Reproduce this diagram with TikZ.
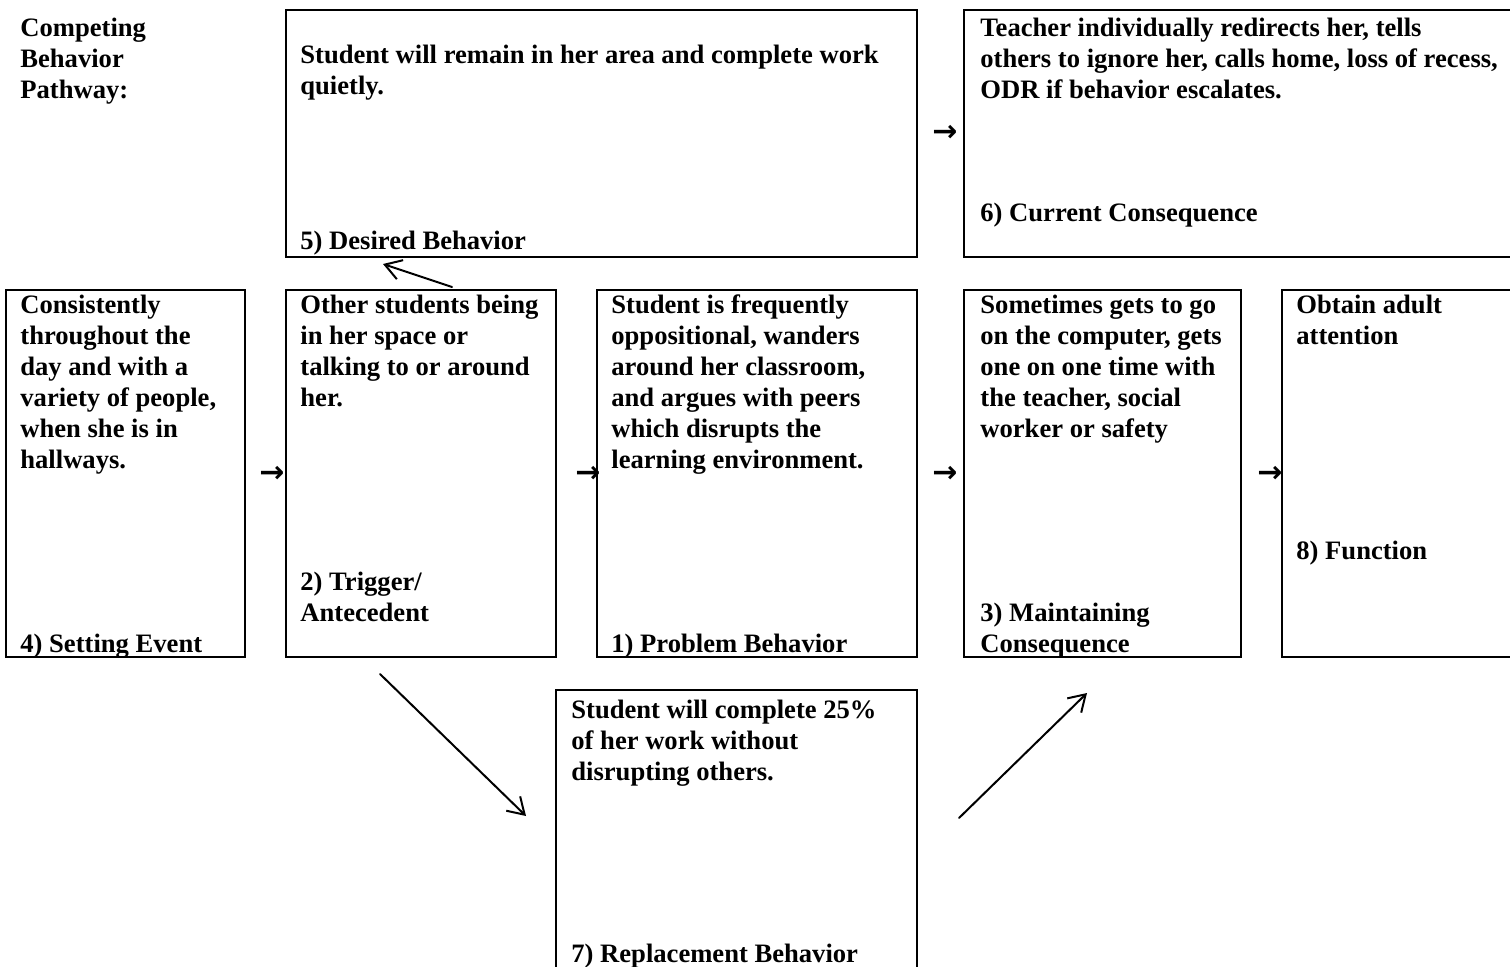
\documentclass[tikz,border=0pt]{standalone}
\usepackage{fontspec}
\setmainfont{Liberation Serif}
\newfontfamily\arrowfont{DejaVu Sans}
\usetikzlibrary{arrows.meta,fit}

\begin{document}
\begin{tikzpicture}[line cap=round,line join=round,>={Straight Barb[length=8pt,width=10pt]},x=0.5pt,y=-0.5pt,
  box/.style={draw,line width=1.pt,line join=miter,inner sep=0pt},
  txt/.style={anchor=base west,align=left,inner sep=0pt,font=\fontsize{13.3}{15.5}\selectfont\bfseries},
  pil/.style={inner sep=0pt,font=\fontsize{15}{15}\selectfont\arrowfont\bfseries}]
\useasboundingbox (0,0) rectangle (1510,966);
\clip (0,0) rectangle (1510,966);
\node [box,fit={(286,10) (917,257)}] (desired) {};
\node [box,fit={(964,10) (1530,257)}] (current) {};
\node [box,fit={(6,290) (245,657)}] (setting) {};
\node [box,fit={(286,290) (556,657)}] (trigger) {};
\node [box,fit={(597,290) (917,657)}] (problem) {};
\node [box,fit={(964,290) (1241,657)}] (maint) {};
\node [box,fit={(1282,290) (1530,657)}] (func) {};
\node [box,fit={(556,690) (917,990)}] (replace) {};
\node [txt] (compet) at (20,98) {Competing\\Behavior\\Pathway:};
\node [txt] (desiredtxt) at (300,94) {Student will remain in her area and complete work\\quietly.};
\node [txt] (desiredlbl) at (300,249) {5) Desired Behavior};
\node [txt] (currenttxt) at (980,98) {Teacher individually redirects her, tells\\others to ignore her, calls home, loss of recess,\\ODR if behavior escalates.};
\node [txt] (currentlbl) at (980,221) {6) Current Consequence};
\node [txt] (settingtxt) at (20,468) {Consistently\\throughout the\\day and with a\\variety of people,\\when she is in\\hallways.};
\node [txt] (settinglbl) at (20,652) {4) Setting Event};
\node [txt] (triggertxt) at (300,406) {Other students being\\in her space or\\talking to or around\\her.};
\node [txt] (triggerlbl) at (300,621) {2) Trigger/\\Antecedent};
\node [txt] (problemtxt) at (611,468) {Student is frequently\\oppositional, wanders\\around her classroom,\\and argues with peers\\which disrupts the\\learning environment.};
\node [txt] (problemlbl) at (611,652) {1) Problem Behavior};
\node [txt] (mainttxt) at (980,437) {Sometimes gets to go\\on the computer, gets\\one on one time with\\the teacher, social\\worker or safety};
\node [txt] (maintlbl) at (980,652) {3) Maintaining\\Consequence};
\node [txt] (functxt) at (1296,344) {Obtain adult\\attention};
\node [txt] (funclbl) at (1296,559) {8) Function};
\node [txt] (replacetxt) at (571,780) {Student will complete 25\%\\of her work without\\disrupting others.};
\node [txt] (replacelbl) at (571,962) {7) Replacement Behavior};
\node [pil] (p1) at (945,133) {→};
\node [pil] (p2) at (272,474) {→};
\node [pil] (p3) at (588,474) {→};
\node [pil] (p4) at (945,474) {→};
\node [pil] (p5) at (1270,474) {→};
\coordinate (u1) at (452,287);
\coordinate (u2) at (383,264);
\coordinate (d1) at (380,674);
\coordinate (d2) at (526,816);
\coordinate (r1) at (959,818);
\coordinate (r2) at (1087,693);
\draw [->,line width=1.pt] (u1)-- (u2);
\draw [->,line width=1.pt] (d1)-- (d2);
\draw [->,line width=1.pt] (r1)-- (r2);
\end{tikzpicture}
\end{document}
